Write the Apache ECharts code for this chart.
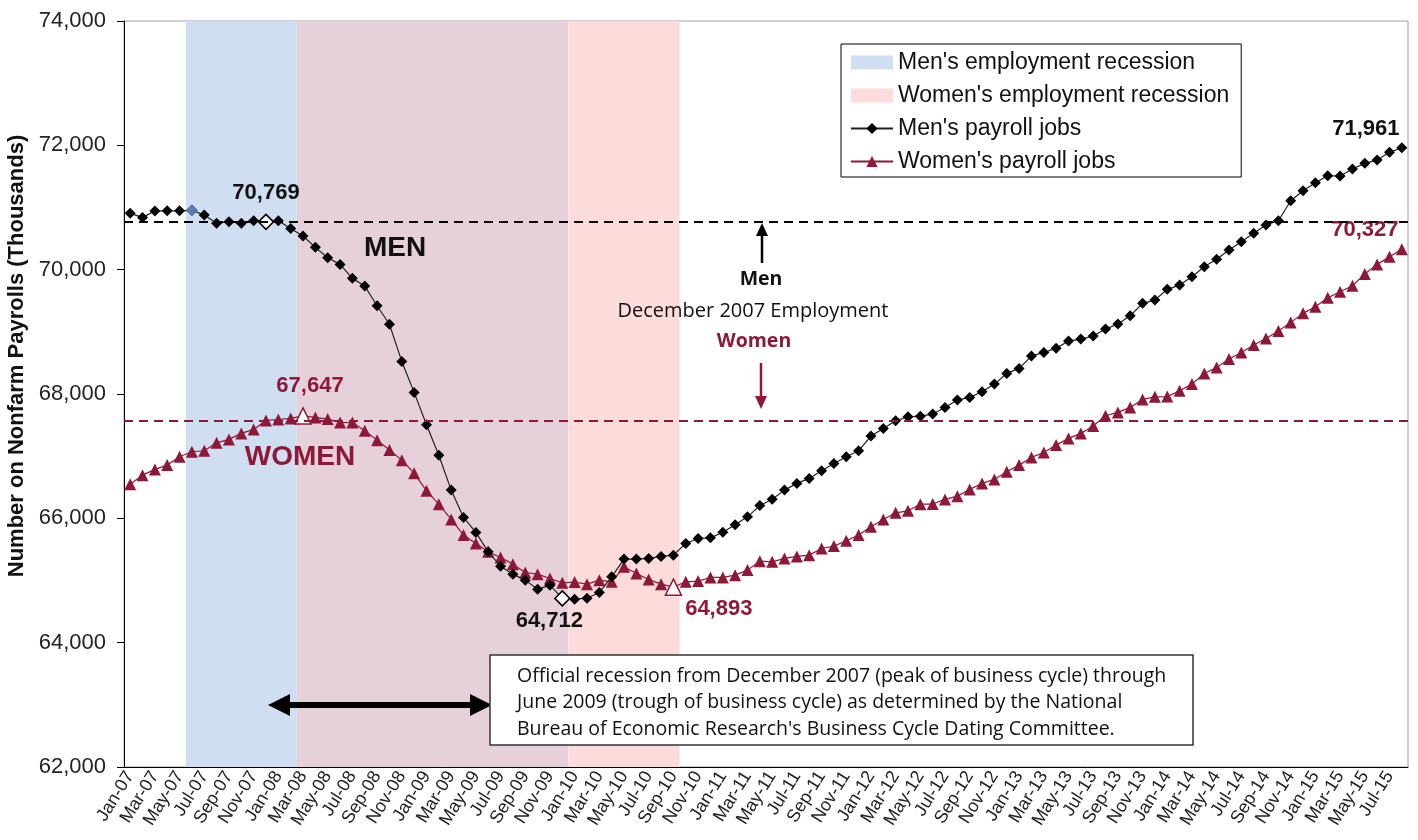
<!DOCTYPE html>
<html>
<head>
    <meta charset="utf-8">
    <title>Men's and women's payroll jobs</title>
    <script src="https://cdn.jsdelivr.net/npm/echarts@6/dist/echarts.min.js"></script>
</head>
<body style="margin:0;background:#fff;">

<div id="main" style="width: 1418px;height:840px;"></div>
<script type="text/javascript">
    // month categories Jan-07 .. Aug-15
    var monthNames = ['Jan', 'Feb', 'Mar', 'Apr', 'May', 'Jun', 'Jul', 'Aug', 'Sep', 'Oct', 'Nov', 'Dec'];
    var yearSuffixes = ['07', '08', '09', '10', '11', '12', '13', '14', '15'];
    var lastMonth = 'Aug-15';
    var months = [];
    yearSuffixes.forEach(function (y) {
        monthNames.forEach(function (m) {
            if (months.indexOf(lastMonth) < 0) months.push(m + '-' + y);
        });
    });

    // payroll jobs, thousands
    var men = [
        70906, 70841, 70945, 70948, 70946, 70955, 70878, 70745, 70771, 70745, 70787, 70769,
        70787, 70664, 70541, 70359, 70192, 70085, 69860, 69736, 69419, 69122, 68524, 68026,
        67506, 67015, 66454, 66014, 65773, 65461, 65231, 65102, 65006, 64858, 64925, 64712,
        64700, 64715, 64808, 65059, 65344, 65344, 65355, 65388, 65408, 65596, 65676, 65686,
        65775, 65897, 66024, 66205, 66306, 66454, 66562, 66642, 66765, 66883, 66990, 67086,
        67323, 67446, 67569, 67633, 67644, 67677, 67784, 67902, 67945, 68035, 68159, 68331,
        68412, 68610, 68669, 68734, 68851, 68883, 68932, 69044, 69125, 69258, 69458, 69511,
        69683, 69752, 69886, 70047, 70166, 70316, 70449, 70584, 70718, 70787, 71109, 71270,
        71398, 71511, 71506, 71619, 71710, 71763, 71887, 71961
    ];
    var women = [
        66550, 66695, 66787, 66856, 66990, 67071, 67087, 67215, 67270, 67366, 67430, 67575,
        67590, 67607, 67647, 67623, 67596, 67543, 67540, 67408, 67258, 67100, 66936, 66727,
        66442, 66228, 65982, 65730, 65596, 65461, 65370, 65263, 65129, 65102, 65033, 64963,
        64975, 64941, 65006, 64979, 65220, 65113, 65017, 64941, 64893, 64979, 64990, 65049,
        65050, 65086, 65167, 65311, 65300, 65355, 65387, 65408, 65515, 65553, 65639, 65730,
        65864, 65982, 66089, 66121, 66228, 66230, 66304, 66357, 66465, 66562, 66626, 66749,
        66856, 66980, 67060, 67178, 67286, 67366, 67484, 67650, 67704, 67784, 67913, 67955,
        67958, 68051, 68159, 68331, 68428, 68562, 68669, 68787, 68894, 69012, 69152, 69297,
        69404, 69548, 69645, 69741, 69929, 70085, 70208, 70327
    ];

    // recession periods (first month, last month)
    var menRecession = ['Jun-07', 'Dec-09'];
    var womenRecession = ['Mar-08', 'Sep-10'];
    var baseMonth = 'Dec-07';

    var yMin = 62000, yMax = 74000, yStep = 2000;

    var maroon = '#8E1838';
    var blue = '#CFDEF1';
    var pink = '#FCDBDB';
    var mauve = '#E6D1DB';
    var sans = '"Liberation Sans", Arial, sans-serif';
    var calib = '"Open Sans", sans-serif';

    function idx(m) { return months.indexOf(m); }
    function fmt(v) { return echarts.format.addCommas(v); }

    var lastIdx = months.length - 1;

    var menData = men.map(function (v, i) {
        var d = { value: v };
        if (i === idx(menRecession[0])) {
            d.itemStyle = { color: '#5B7DB3', borderColor: '#3F5F92', borderWidth: 1 };
        }
        if (i === idx(baseMonth)) {
            d.symbolSize = 15;
            d.itemStyle = { color: '#fff', borderColor: '#000', borderWidth: 1.5 };
            d.label = { show: true, position: 'top', distance: 10 };
        }
        if (i === idx(menRecession[1])) {
            d.symbolSize = 15;
            d.itemStyle = { color: '#fff', borderColor: '#000', borderWidth: 1.5 };
            d.label = { show: true, position: 'bottom', distance: 3, offset: [-13, 0] };
        }
        if (i === lastIdx) {
            d.label = { show: true, position: 'top', distance: 2, offset: [-36, 0] };
        }
        return d;
    });

    var womenData = women.map(function (v, i) {
        var d = { value: v };
        if (i === idx(womenRecession[0])) {
            d.symbolSize = 16;
            d.itemStyle = { color: '#fff', borderColor: maroon, borderWidth: 1.5 };
            d.label = { show: true, position: 'top', distance: 10, offset: [7, 0] };
        }
        if (i === idx(womenRecession[1])) {
            d.symbolSize = 16;
            d.itemStyle = { color: '#fff', borderColor: maroon, borderWidth: 1.5 };
            d.label = { show: true, position: 'right', distance: 3, offset: [0, 22] };
        }
        if (i === lastIdx) {
            d.label = { show: true, position: 'top', distance: 2, offset: [-37, 0] };
        }
        return d;
    });

    // shaded bands on a hidden value axis, band edges at month boundaries
    var mS = idx(menRecession[0]), mE = idx(menRecession[1]) + 1;
    var wS = idx(womenRecession[0]), wE = idx(womenRecession[1]) + 1;

    var myChart = echarts.init(document.getElementById('main'));

    var option = {
        animation: false,
        backgroundColor: '#fff',
        textStyle: { fontFamily: sans },
        grid: {
            left: 124, right: 10, top: 21, bottom: 73,
            outerBoundsMode: 'none', containLabel: false,
            show: true, borderColor: '#A0A0A0', borderWidth: 1, backgroundColor: 'transparent'
        },
        legend: {
            orient: 'vertical',
            left: 841, top: 44,
            data: [
                { name: "Men's employment recession", icon: 'rect', itemStyle: { color: blue } },
                { name: "Women's employment recession", icon: 'rect', itemStyle: { color: pink } },
                "Men's payroll jobs",
                "Women's payroll jobs"
            ],
            itemWidth: 42, itemHeight: 14, itemGap: 10,
            padding: [7, 12, 4, 9],
            borderColor: '#000', borderWidth: 1, backgroundColor: '#fff',
            textStyle: { fontSize: 23, color: '#111', fontFamily: sans }
        },
        xAxis: [
            {
                type: 'category', data: months, boundaryGap: true, position: 'bottom',
                axisLine: { lineStyle: { color: '#000', width: 1 } },
                axisTick: { interval: 1, length: 4, lineStyle: { color: '#000' } },
                axisLabel: { interval: 1, rotate: 58, fontSize: 18, color: '#222', margin: 6 }
            },
            {
                type: 'category', data: months, boundaryGap: true, position: 'bottom',
                axisLine: { show: false },
                axisTick: { interval: 1, inside: true, length: 5, lineStyle: { color: '#000' } },
                axisLabel: { show: false }
            },
            { type: 'value', min: 0, max: months.length, show: false }
        ],
        yAxis: {
            type: 'value', min: yMin, max: yMax, interval: yStep,
            name: 'Number on Nonfarm Payrolls (Thousands)',
            nameLocation: 'middle', nameGap: 95,
            nameTextStyle: { fontSize: 22, fontWeight: 'bold', color: '#111', padding: [0, 0, 0, 76] },
            axisLine: { show: true, lineStyle: { color: '#000' } },
            axisTick: { show: true, length: 7, lineStyle: { color: '#000' } },
            splitLine: { show: false },
            axisLabel: { formatter: fmt, fontSize: 22, color: '#222', margin: 18 }
        },
        series: [
            {
                name: "Men's employment recession", type: 'line', xAxisIndex: 2, data: [],
                color: blue, silent: true, z: 0,
                markArea: {
                    silent: true,
                    data: [
                        [{ xAxis: mS, itemStyle: { color: blue } }, { xAxis: wS }],
                        [{ xAxis: wS, itemStyle: { color: mauve } }, { xAxis: mE }]
                    ]
                }
            },
            {
                name: "Women's employment recession", type: 'line', xAxisIndex: 2, data: [],
                color: pink, silent: true, z: 0,
                markArea: {
                    silent: true,
                    data: [
                        [{ xAxis: mE, itemStyle: { color: pink } }, { xAxis: wE }]
                    ]
                }
            },
            {
                name: "Men's payroll jobs", type: 'line', data: menData,
                color: '#000',
                symbol: 'diamond', symbolSize: 11, showAllSymbol: true,
                lineStyle: { color: '#222', width: 1.2 },
                label: { show: false, formatter: function (p) { return fmt(p.value); }, color: '#111', fontSize: 22, fontWeight: 'bold' },
                markLine: {
                    silent: true, symbol: 'none', label: { show: false },
                    lineStyle: { color: '#000', type: [9, 6], width: 2 },
                    data: [{ yAxis: men[idx(baseMonth)] }]
                },
                z: 4
            },
            {
                name: "Women's payroll jobs", type: 'line', data: womenData,
                color: maroon,
                symbol: 'triangle', symbolSize: 12, showAllSymbol: true,
                lineStyle: { color: maroon, width: 1.2 },
                label: { show: false, formatter: function (p) { return fmt(p.value); }, color: maroon, fontSize: 22, fontWeight: 'bold' },
                markLine: {
                    silent: true, symbol: 'none', label: { show: false },
                    lineStyle: { color: maroon, type: [9, 6], width: 2 },
                    data: [{ yAxis: women[idx(baseMonth)] }]
                },
                z: 3
            }
        ],
        graphic: [
            { type: 'text', x: 395, y: 248, z: 10,
              style: { text: 'MEN', font: 'bold 28px ' + sans, fill: '#111', align: 'center', verticalAlign: 'middle', textAlign: 'center', textVerticalAlign: 'middle' } },
            { type: 'text', x: 300, y: 457, z: 10,
              style: { text: 'WOMEN', font: 'bold 28px ' + sans, fill: maroon, align: 'center', verticalAlign: 'middle', textAlign: 'center', textVerticalAlign: 'middle' } },
            { type: 'text', x: 761, y: 279, z: 10,
              style: { text: 'Men', font: 'bold 19.5px ' + calib, fill: '#111', align: 'center', verticalAlign: 'middle', textAlign: 'center', textVerticalAlign: 'middle' } },
            { type: 'text', x: 753, y: 311, z: 10,
              style: { text: 'December 2007 Employment', font: '20px ' + calib, fill: '#111', align: 'center', verticalAlign: 'middle', textAlign: 'center', textVerticalAlign: 'middle' } },
            { type: 'text', x: 754, y: 341, z: 10,
              style: { text: 'Women', font: 'bold 19.5px ' + calib, fill: maroon, align: 'center', verticalAlign: 'middle', textAlign: 'center', textVerticalAlign: 'middle' } },
            // men arrow (up)
            { type: 'line', z: 10, shape: { x1: 762, y1: 263, x2: 762, y2: 233 }, style: { stroke: '#000', lineWidth: 2.5 } },
            { type: 'polygon', z: 10, shape: { points: [[762, 223], [756, 236], [768, 236]] }, style: { fill: '#000' } },
            // women arrow (down)
            { type: 'line', z: 10, shape: { x1: 761, y1: 363, x2: 761, y2: 397 }, style: { stroke: maroon, lineWidth: 2.5 } },
            { type: 'polygon', z: 10, shape: { points: [[761, 409], [755, 396], [767, 396]] }, style: { fill: maroon } },
            // double arrow over official recession
            { type: 'polygon', z: 10,
              shape: { points: [[268, 705], [290, 694], [290, 702], [470, 702], [470, 694], [492, 705], [470, 716], [470, 708], [290, 708], [290, 716]] },
              style: { fill: '#000' } },
            // note box
            { type: 'rect', z: 10, shape: { x: 490, y: 655, width: 703, height: 90 }, style: { fill: '#fff', stroke: '#333', lineWidth: 1.5 } },
            { type: 'text', x: 517, y: 663, z: 11,
              style: {
                  text: 'Official recession from December 2007 (peak of business cycle) through\n' +
                        'June 2009 (trough of business cycle) as determined by the National\n' +
                        "Bureau of Economic Research's Business Cycle Dating Committee.",
                  font: '19.5px ' + calib, lineHeight: 26.5, fill: '#111'
              } }
        ]
    };

    myChart.setOption(option);
</script>
</body>
</html>
